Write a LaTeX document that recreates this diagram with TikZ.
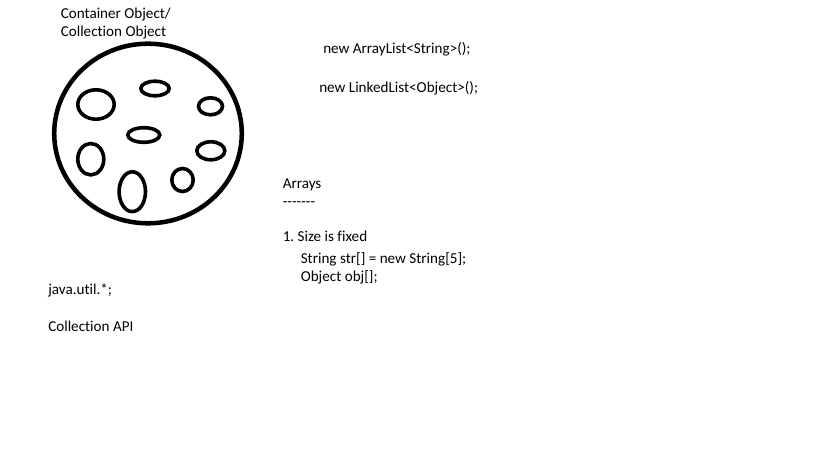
\documentclass[tikz,border=0pt]{standalone}
\usepackage{fontspec}
\setmainfont[Ligatures={NoCommon}]{Carlito}
\frenchspacing
\begin{document}
\begin{tikzpicture}[x=0.75pt,y=-0.75pt,
  lbl/.style={anchor=base west,inner sep=0pt,font=\fontsize{11.35}{13.6}\selectfont},
  big/.style={line width=3.4pt},
  item/.style={line width=2.7pt}]
\useasboundingbox (0,0) rectangle (819,460);
% container circle
\draw[big] (148,133.5) ellipse [x radius=93.8, y radius=89.8];
% objects inside
\draw[item] (96,104.5) ellipse [x radius=18.2, y radius=14.7];
\draw[item] (155,88.5) ellipse [x radius=14.2, y radius=7.3];
\draw[item] (210.5,106.3) ellipse [x radius=12, y radius=8.5];
\draw[item] (143.8,135) ellipse [x radius=16, y radius=7.3];
\draw[item] (90.8,159.2) ellipse [x radius=13, y radius=15.7];
\draw[item] (210.8,150.8) ellipse [x radius=14, y radius=9];
\draw[item] (132.3,191.7) ellipse [x radius=13.2, y radius=19.9];
\draw[item] (182.5,180) ellipse [x radius=10.7, y radius=11.5];
% texts
\node[lbl] (t1) at (60.5,18.3) {Container Object/};
\node[lbl] (t2) at (60.5,36.5) {Collection Object};
\node[lbl] (t3) at (323,54) {new ArrayList<String>();};
\node[lbl] (t4) at (319,92.5) {new LinkedList<Object>();};
\node[lbl] (t5) at (282.5,188.3) {Arrays};
\node[lbl] (t6) at (282.5,206.5) {-{}-{}-{}-{}-{}-{}-};
\node[lbl] (t7) at (282.5,241.7) {1. Size is fixed};
\node[lbl] (t8) at (300.5,263) {String str[] = new String[5];};
\node[lbl] (t9) at (300.5,281.5) {Object obj[];};
\node[lbl] (t10) at (48,295) {java.util.*;};
\node[lbl] (t11) at (48,331) {Collection API};
\end{tikzpicture}
\end{document}
